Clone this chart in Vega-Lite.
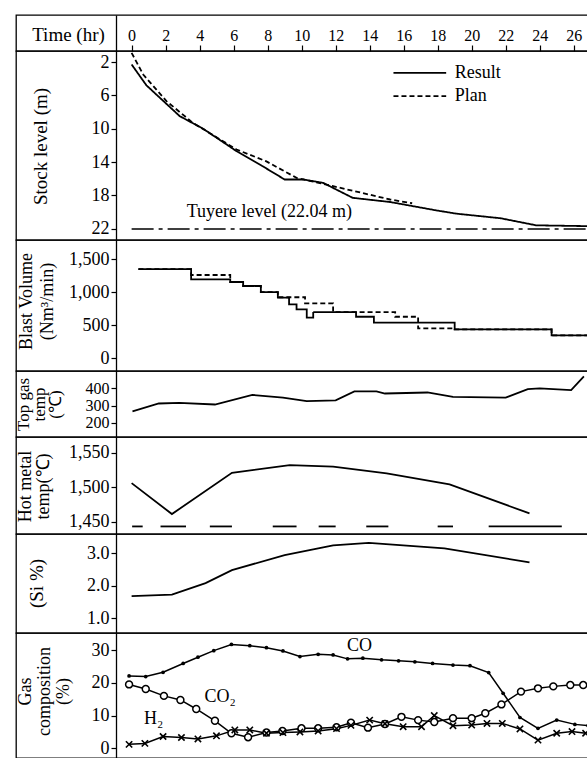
{
  "$schema": "https://vega.github.io/schema/vega-lite/v6.json",
  "padding": {"left": 13, "top": 14, "right": 0, "bottom": 0},
  "spacing": 0,
  "bounds": "flush",
  "config": {
    "view": {"stroke": "black", "strokeWidth": 1.3},
    "font": "Liberation Serif",
    "axis": {"labelFont": "Liberation Serif", "titleFont": "Liberation Serif", "labelFontSize": 17, "titleFontSize": 17, "titleFontWeight": "normal", "labelColor": "black", "titleColor": "black", "domainColor": "black", "tickColor": "black", "grid": false, "tickWidth": 1.2, "domainWidth": 1.3, "labelOverlap": false},
    "line": {"color": "black", "strokeWidth": 1.8},
    "rule": {"color": "black"},
    "text": {"font": "Liberation Serif", "color": "black"}
  },
  "resolve": {"scale": {"x": "independent", "y": "independent", "strokeDash": "independent"}, "legend": {"strokeDash": "independent"}},
  "vconcat": [
    {
      "width": 573, "height": 36,
      "data": {"values": [{"t": 0, "v": 0}]},
      "mark": {"type": "point", "opacity": 0},
      "encoding": {
        "x": {"field": "t", "type": "quantitative", "scale": {"domain": [-6.8, 26.9], "nice": false, "zero": false}, "axis": null},
        "y": {"field": "v", "type": "quantitative", "scale": {"domain": [0, 1], "nice": false}, "axis": {"orient": "left", "offset": -100, "ticks": false, "labels": false, "title": "Time (hr)", "titleAngle": 0, "titleX": -48, "titleY": 19, "titleAlign": "center", "titleBaseline": "middle", "titleFontSize": 19}}
      }
    },
    {
      "width": 573, "height": 189,
      "layer": [
        {
          "data": {"values": [
            {"t": 0.0, "m": 2.3, "s": "Result"}, {"t": 0.87, "m": 4.8, "s": "Result"}, {"t": 2.83, "m": 8.5, "s": "Result"}, {"t": 4.2, "m": 10.0, "s": "Result"}, {"t": 6.17, "m": 12.7, "s": "Result"}, {"t": 7.7, "m": 14.5, "s": "Result"}, {"t": 9.0, "m": 16.1, "s": "Result"}, {"t": 10.1, "m": 16.1, "s": "Result"}, {"t": 11.26, "m": 16.5, "s": "Result"}, {"t": 13.0, "m": 18.3, "s": "Result"}, {"t": 15.2, "m": 18.8, "s": "Result"}, {"t": 17.9, "m": 19.8, "s": "Result"}, {"t": 19.1, "m": 20.2, "s": "Result"}, {"t": 21.7, "m": 20.75, "s": "Result"}, {"t": 23.8, "m": 21.6, "s": "Result"}, {"t": 26.9, "m": 21.7, "s": "Result"},
            {"t": 0.0, "m": 0.9, "s": "Plan"}, {"t": 0.68, "m": 3.5, "s": "Plan"}, {"t": 2.05, "m": 6.7, "s": "Plan"}, {"t": 3.6, "m": 9.3, "s": "Plan"}, {"t": 6.17, "m": 12.5, "s": "Plan"}, {"t": 7.9, "m": 13.9, "s": "Plan"}, {"t": 9.7, "m": 15.9, "s": "Plan"}, {"t": 11.85, "m": 16.9, "s": "Plan"}, {"t": 15.2, "m": 18.5, "s": "Plan"}, {"t": 16.5, "m": 18.95, "s": "Plan"}
          ]},
          "mark": {"type": "line"},
          "encoding": {
            "x": {"field": "t", "type": "quantitative", "scale": {"domain": [-6.8, 26.9], "nice": false, "zero": false}, "axis": {"orient": "top", "values": [0, 2, 4, 6, 8, 10, 12, 14, 16, 18, 20, 22, 24, 26], "tickCount": 30, "tickSize": 6, "labelPadding": 2, "labelFontSize": 16, "domain": false, "title": null, "labelFlush": false}},
            "y": {"field": "m", "type": "quantitative", "scale": {"domain": [0.68, 23.36], "reverse": true, "nice": false, "zero": false}, "axis": {"orient": "left", "offset": -100, "values": [2, 6, 10, 14, 18, 22], "tickCount": 30, "tickSize": 5, "labelPadding": 2, "labelFontSize": 18, "title": "Stock  level  (m)", "titleAngle": -90, "titleX": -76, "titleY": 95, "titleAlign": "center", "titleBaseline": "middle", "titleFontSize": 19}},
            "strokeDash": {"field": "s", "type": "nominal", "scale": {"domain": ["Result", "Plan"], "range": [[1, 0], [5, 3]]}, "legend": null}
          }
        },
        {
          "data": {"values": [{"s": "Result", "t0": 15.4, "t1": 18.5, "m": 3.3}, {"s": "Plan", "t0": 15.4, "t1": 18.5, "m": 6.1}]},
          "mark": {"type": "rule", "strokeWidth": 1.7},
          "encoding": {"x": {"field": "t0", "type": "quantitative"}, "x2": {"field": "t1"}, "y": {"field": "m", "type": "quantitative"}, "strokeDash": {"field": "s", "type": "nominal", "legend": null}}
        },
        {
          "data": {"values": [{"s": "Result", "t": 19.0, "m": 3.3}, {"s": "Plan", "t": 19.0, "m": 6.1}]},
          "mark": {"type": "text", "fontSize": 18, "align": "left", "baseline": "middle"},
          "encoding": {"x": {"field": "t", "type": "quantitative"}, "y": {"field": "m", "type": "quantitative"}, "text": {"field": "s"}}
        },
        {
          "data": {"values": [{"t0": 0, "t1": 26.9, "m": 22.04}]},
          "mark": {"type": "rule", "strokeDash": [22, 5, 4, 5], "strokeWidth": 1.3},
          "encoding": {"x": {"field": "t0", "type": "quantitative"}, "x2": {"field": "t1"}, "y": {"field": "m", "type": "quantitative"}}
        },
        {
          "data": {"values": [{"t": 8.1, "m": 20.0, "label": "Tuyere  level (22.04 m)"}]},
          "mark": {"type": "text", "fontSize": 18},
          "encoding": {"x": {"field": "t", "type": "quantitative"}, "y": {"field": "m", "type": "quantitative"}, "text": {"field": "label"}}
        }
      ]
    },
    {
      "width": 573, "height": 131,
      "data": {"values": [
        {"t": 0.4, "v": 1350, "s": "Result"}, {"t": 3.5, "v": 1197, "s": "Result"}, {"t": 5.8, "v": 1156, "s": "Result"}, {"t": 6.56, "v": 1095, "s": "Result"}, {"t": 7.6, "v": 1004, "s": "Result"}, {"t": 8.6, "v": 918, "s": "Result"}, {"t": 9.26, "v": 818, "s": "Result"}, {"t": 9.7, "v": 742, "s": "Result"}, {"t": 10.3, "v": 615, "s": "Result"}, {"t": 10.68, "v": 701, "s": "Result"}, {"t": 13.2, "v": 630, "s": "Result"}, {"t": 14.25, "v": 540, "s": "Result"}, {"t": 19.0, "v": 439, "s": "Result"}, {"t": 24.7, "v": 348, "s": "Result"}, {"t": 26.9, "v": 348, "s": "Result"},
        {"t": 0.4, "v": 1350, "s": "Plan"}, {"t": 3.5, "v": 1262, "s": "Plan"}, {"t": 5.8, "v": 1156, "s": "Plan"}, {"t": 6.56, "v": 1095, "s": "Plan"}, {"t": 7.6, "v": 1004, "s": "Plan"}, {"t": 8.6, "v": 925, "s": "Plan"}, {"t": 10.2, "v": 833, "s": "Plan"}, {"t": 11.85, "v": 701, "s": "Plan"}, {"t": 15.5, "v": 630, "s": "Plan"}, {"t": 16.85, "v": 455, "s": "Plan"}, {"t": 19.0, "v": 439, "s": "Plan"}, {"t": 24.7, "v": 348, "s": "Plan"}, {"t": 26.9, "v": 348, "s": "Plan"}
      ]},
      "mark": {"type": "line", "interpolate": "step-after", "strokeWidth": 1.8},
      "encoding": {
        "x": {"field": "t", "type": "quantitative", "scale": {"domain": [-6.8, 26.9], "nice": false, "zero": false}, "axis": null},
        "y": {"field": "v", "type": "quantitative", "scale": {"domain": [-192, 1792], "nice": false, "zero": false}, "axis": {"orient": "left", "offset": -100, "values": [0, 500, 1000, 1500], "tickCount": 30, "format": ",.0f", "tickSize": 5, "labelPadding": 2, "labelFontSize": 18, "title": ["Blast Volume", "(Nm³/min)"], "titleAngle": -90, "titleX": -90, "titleY": 61, "titleAlign": "center", "titleBaseline": "middle", "titleLineHeight": 21, "titleFontSize": 18}},
        "strokeDash": {"field": "s", "type": "nominal", "scale": {"domain": ["Result", "Plan"], "range": [[1, 0], [5, 3]]}, "legend": null}
      }
    },
    {
      "width": 573, "height": 66,
      "data": {"values": [
        {"t": 0.05, "v": 266}, {"t": 1.6, "v": 312}, {"t": 2.8, "v": 316}, {"t": 4.9, "v": 306}, {"t": 7.1, "v": 362}, {"t": 8.9, "v": 346}, {"t": 10.3, "v": 326}, {"t": 12.0, "v": 330}, {"t": 13.1, "v": 382}, {"t": 14.4, "v": 382}, {"t": 14.9, "v": 370}, {"t": 17.4, "v": 376}, {"t": 18.9, "v": 350}, {"t": 22.0, "v": 346}, {"t": 23.3, "v": 396}, {"t": 24.0, "v": 400}, {"t": 25.85, "v": 390}, {"t": 26.6, "v": 470}
      ]},
      "mark": {"type": "line"},
      "encoding": {
        "x": {"field": "t", "type": "quantitative", "scale": {"domain": [-6.8, 26.9], "nice": false, "zero": false}, "axis": null},
        "y": {"field": "v", "type": "quantitative", "scale": {"domain": [117, 501], "nice": false, "zero": false}, "axis": {"orient": "left", "offset": -100, "values": [200, 300, 400], "tickCount": 30, "tickSize": 5, "labelPadding": 2, "labelFontSize": 16, "title": ["Top gas", "temp", "(℃)"], "titleAngle": -90, "titleX": -93, "titleY": 33, "titleAlign": "center", "titleBaseline": "middle", "titleLineHeight": 16, "titleFontSize": 17}}
      }
    },
    {
      "width": 573, "height": 97,
      "layer": [
        {
          "data": {"values": [
            {"t": 0, "v": 1506}, {"t": 2.37, "v": 1461}, {"t": 5.9, "v": 1521}, {"t": 9.3, "v": 1532}, {"t": 11.85, "v": 1530}, {"t": 15.0, "v": 1520}, {"t": 18.7, "v": 1504}, {"t": 23.4, "v": 1462}
          ]},
          "mark": {"type": "line"},
          "encoding": {
            "x": {"field": "t", "type": "quantitative", "scale": {"domain": [-6.8, 26.9], "nice": false, "zero": false}, "axis": null},
            "y": {"field": "v", "type": "quantitative", "scale": {"domain": [1432, 1573], "nice": false, "zero": false}, "axis": {"orient": "left", "offset": -100, "values": [1450, 1500, 1550], "tickCount": 30, "format": ",.0f", "tickSize": 5, "labelPadding": 2, "labelFontSize": 18, "title": ["Hot  metal", "temp(℃)"], "titleAngle": -90, "titleX": -91, "titleY": 49, "titleAlign": "center", "titleBaseline": "middle", "titleLineHeight": 18, "titleFontSize": 18}}
          }
        },
        {
          "data": {"values": [
            {"t0": 0.03, "t1": 0.65, "v": 1443}, {"t0": 1.7, "t1": 3.2, "v": 1443}, {"t0": 4.6, "t1": 5.9, "v": 1443}, {"t0": 8.3, "t1": 9.7, "v": 1443}, {"t0": 11.0, "t1": 12.0, "v": 1443}, {"t0": 13.8, "t1": 15.1, "v": 1443}, {"t0": 18.0, "t1": 18.9, "v": 1443}, {"t0": 21.0, "t1": 25.3, "v": 1443}
          ]},
          "mark": {"type": "rule", "strokeWidth": 1.8},
          "encoding": {"x": {"field": "t0", "type": "quantitative"}, "x2": {"field": "t1"}, "y": {"field": "v", "type": "quantitative"}}
        }
      ]
    },
    {
      "width": 573, "height": 99,
      "data": {"values": [
        {"t": 0, "v": 1.68}, {"t": 2.37, "v": 1.73}, {"t": 4.35, "v": 2.08}, {"t": 5.9, "v": 2.48}, {"t": 9.0, "v": 2.94}, {"t": 11.85, "v": 3.24}, {"t": 13.95, "v": 3.32}, {"t": 18.4, "v": 3.15}, {"t": 23.4, "v": 2.72}
      ]},
      "mark": {"type": "line"},
      "encoding": {
        "x": {"field": "t", "type": "quantitative", "scale": {"domain": [-6.8, 26.9], "nice": false, "zero": false}, "axis": null},
        "y": {"field": "v", "type": "quantitative", "scale": {"domain": [0.55, 3.59], "nice": false, "zero": false}, "axis": {"orient": "left", "offset": -100, "values": [1, 2, 3], "tickCount": 30, "format": ".1f", "tickSize": 5, "labelPadding": 2, "labelFontSize": 18, "title": "(Si %)", "titleAngle": -90, "titleX": -80, "titleY": 49, "titleAlign": "center", "titleBaseline": "middle", "titleFontSize": 19}}
      }
    },
    {
      "width": 573, "height": 125,
      "data": {"values": [
        {"t": -0.15, "v": 22.1, "g": "CO"}, {"t": 0.83, "v": 21.9, "g": "CO"}, {"t": 1.85, "v": 23.2, "g": "CO"}, {"t": 3.03, "v": 25.9, "g": "CO"}, {"t": 3.9, "v": 27.8, "g": "CO"}, {"t": 4.83, "v": 29.8, "g": "CO"}, {"t": 5.87, "v": 31.7, "g": "CO"}, {"t": 6.95, "v": 31.3, "g": "CO"}, {"t": 7.93, "v": 30.7, "g": "CO"}, {"t": 8.9, "v": 29.7, "g": "CO"}, {"t": 9.9, "v": 28.0, "g": "CO"}, {"t": 10.97, "v": 28.7, "g": "CO"}, {"t": 11.85, "v": 28.5, "g": "CO"}, {"t": 12.7, "v": 27.3, "g": "CO"}, {"t": 13.6, "v": 27.5, "g": "CO"}, {"t": 14.7, "v": 27.0, "g": "CO"}, {"t": 15.7, "v": 26.7, "g": "CO"}, {"t": 16.66, "v": 26.4, "g": "CO"}, {"t": 17.7, "v": 25.9, "g": "CO"}, {"t": 18.9, "v": 25.4, "g": "CO"}, {"t": 19.9, "v": 25.2, "g": "CO"}, {"t": 21.0, "v": 23.1, "g": "CO"}, {"t": 21.85, "v": 16.8, "g": "CO"}, {"t": 22.84, "v": 9.4, "g": "CO"}, {"t": 23.9, "v": 6.1, "g": "CO"}, {"t": 25.0, "v": 8.6, "g": "CO"}, {"t": 26.07, "v": 7.3, "g": "CO"}, {"t": 26.85, "v": 6.9, "g": "CO"},
        {"t": -0.15, "v": 19.5, "g": "CO2"}, {"t": 0.83, "v": 18.1, "g": "CO2"}, {"t": 1.9, "v": 16.0, "g": "CO2"}, {"t": 2.87, "v": 14.75, "g": "CO2"}, {"t": 3.8, "v": 12.0, "g": "CO2"}, {"t": 4.9, "v": 8.4, "g": "CO2"}, {"t": 5.87, "v": 4.6, "g": "CO2"}, {"t": 6.85, "v": 3.4, "g": "CO2"}, {"t": 7.93, "v": 4.8, "g": "CO2"}, {"t": 8.87, "v": 5.3, "g": "CO2"}, {"t": 9.99, "v": 6.1, "g": "CO2"}, {"t": 10.97, "v": 6.1, "g": "CO2"}, {"t": 12.05, "v": 6.4, "g": "CO2"}, {"t": 12.9, "v": 7.8, "g": "CO2"}, {"t": 13.9, "v": 6.3, "g": "CO2"}, {"t": 14.9, "v": 7.4, "g": "CO2"}, {"t": 15.87, "v": 9.6, "g": "CO2"}, {"t": 16.85, "v": 8.6, "g": "CO2"}, {"t": 17.8, "v": 8.0, "g": "CO2"}, {"t": 18.9, "v": 9.2, "g": "CO2"}, {"t": 20.0, "v": 9.2, "g": "CO2"}, {"t": 20.8, "v": 10.7, "g": "CO2"}, {"t": 21.75, "v": 13.4, "g": "CO2"}, {"t": 22.9, "v": 17.3, "g": "CO2"}, {"t": 23.9, "v": 18.3, "g": "CO2"}, {"t": 24.8, "v": 18.9, "g": "CO2"}, {"t": 25.8, "v": 19.3, "g": "CO2"}, {"t": 26.56, "v": 19.3, "g": "CO2"},
        {"t": -0.15, "v": 1.2, "g": "H2"}, {"t": 0.78, "v": 1.5, "g": "H2"}, {"t": 1.85, "v": 3.6, "g": "H2"}, {"t": 2.93, "v": 3.3, "g": "H2"}, {"t": 3.9, "v": 2.85, "g": "H2"}, {"t": 4.99, "v": 3.8, "g": "H2"}, {"t": 6.07, "v": 5.6, "g": "H2"}, {"t": 6.95, "v": 5.6, "g": "H2"}, {"t": 7.93, "v": 4.6, "g": "H2"}, {"t": 8.9, "v": 4.8, "g": "H2"}, {"t": 9.9, "v": 5.0, "g": "H2"}, {"t": 10.97, "v": 5.3, "g": "H2"}, {"t": 12.05, "v": 6.0, "g": "H2"}, {"t": 12.9, "v": 7.0, "g": "H2"}, {"t": 14.0, "v": 8.6, "g": "H2"}, {"t": 14.9, "v": 7.5, "g": "H2"}, {"t": 15.97, "v": 6.6, "g": "H2"}, {"t": 17.05, "v": 6.6, "g": "H2"}, {"t": 17.8, "v": 10.0, "g": "H2"}, {"t": 18.9, "v": 6.9, "g": "H2"}, {"t": 20.0, "v": 7.1, "g": "H2"}, {"t": 20.9, "v": 7.6, "g": "H2"}, {"t": 21.8, "v": 7.6, "g": "H2"}, {"t": 22.84, "v": 5.9, "g": "H2"}, {"t": 23.9, "v": 2.5, "g": "H2"}, {"t": 25.0, "v": 4.6, "g": "H2"}, {"t": 25.9, "v": 5.1, "g": "H2"}, {"t": 26.7, "v": 4.6, "g": "H2"}
      ]},
      "layer": [
        {
          "mark": {"type": "line", "strokeWidth": 1.5},
          "encoding": {
            "x": {"field": "t", "type": "quantitative", "scale": {"domain": [-6.8, 26.9], "nice": false, "zero": false}, "axis": null},
            "y": {"field": "v", "type": "quantitative", "scale": {"domain": [-2.96, 35.19], "nice": false, "zero": false}, "axis": {"orient": "left", "offset": -100, "values": [0, 10, 20, 30], "tickCount": 30, "tickSize": 5, "labelPadding": 2, "labelFontSize": 18, "title": ["Gas", "composition", "(%)"], "titleAngle": -90, "titleX": -91, "titleY": 58, "titleAlign": "center", "titleBaseline": "middle", "titleLineHeight": 19, "titleFontSize": 18}},
            "detail": {"field": "g", "type": "nominal"}
          }
        },
        {
          "transform": [{"filter": "datum.g === 'CO'"}],
          "mark": {"type": "point", "shape": "circle", "filled": true, "color": "black", "size": 14, "opacity": 1},
          "encoding": {"x": {"field": "t", "type": "quantitative"}, "y": {"field": "v", "type": "quantitative"}}
        },
        {
          "transform": [{"filter": "datum.g === 'CO2'"}],
          "mark": {"type": "point", "shape": "circle", "filled": true, "fill": "white", "stroke": "black", "strokeWidth": 1.5, "size": 48, "opacity": 1},
          "encoding": {"x": {"field": "t", "type": "quantitative"}, "y": {"field": "v", "type": "quantitative"}}
        },
        {
          "transform": [{"filter": "datum.g === 'H2'"}],
          "mark": {"type": "point", "shape": "M-1,-1L1,1M-1,1L1,-1", "filled": false, "stroke": "black", "strokeWidth": 1.6, "size": 40, "opacity": 1},
          "encoding": {"x": {"field": "t", "type": "quantitative"}, "y": {"field": "v", "type": "quantitative"}}
        },
        {
          "data": {"values": [{"t": 13.4, "v": 31.2, "label": "CO"}, {"t": 5.2, "v": 15.6, "label": "CO₂"}, {"t": 1.3, "v": 8.9, "label": "H₂"}]},
          "mark": {"type": "text", "fontSize": 18},
          "encoding": {"x": {"field": "t", "type": "quantitative"}, "y": {"field": "v", "type": "quantitative"}, "text": {"field": "label"}}
        }
      ]
    }
  ]
}
